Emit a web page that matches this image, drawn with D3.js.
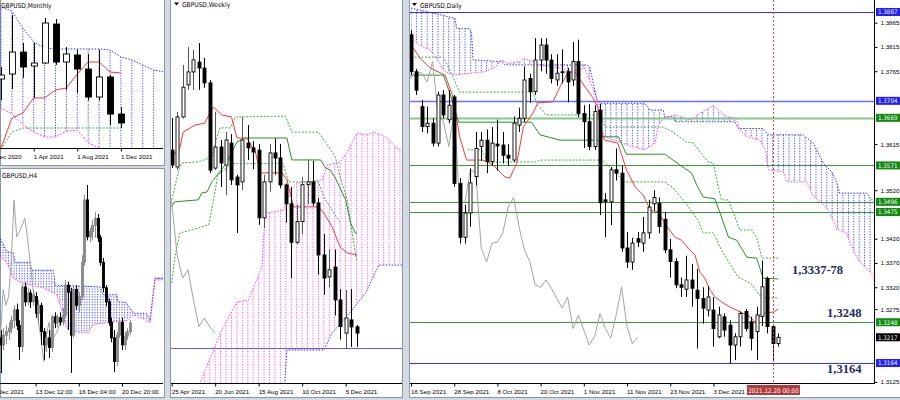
<!DOCTYPE html>
<html><head><meta charset="utf-8">
<script src="https://cdn.jsdelivr.net/npm/d3@7/dist/d3.min.js"></script>
<style>
html,body{margin:0;padding:0;background:#d3dae3;}
svg{display:block;font-family:"DejaVu Sans Condensed","Liberation Sans Narrow","DejaVu Sans",sans-serif;}
.ax text{font-size:6.2px;fill:#000;}
</style></head><body>
<svg id="chart" width="900" height="400"></svg>
<script>
// ================= DATA =================
// ---- Monthly (Jan 2021 .. Dec 2021), [open, high, low, close]
const monthlyOHLC = [
 [1.3641,1.3759,1.3435,1.3680],[1.3690,1.4270,1.3543,1.3906],[1.3906,1.3995,1.3651,1.3759],
 [1.3769,1.3995,1.3455,1.3798],[1.3798,1.4240,1.3790,1.4191],[1.4181,1.4230,1.3780,1.3808],
 [1.3808,1.3955,1.3533,1.3887],[1.3877,1.3926,1.3504,1.3739],[1.3739,1.3887,1.3430,1.3464],
 [1.3464,1.3926,1.3430,1.3661],[1.3661,1.3680,1.3189,1.3297],[1.3297,1.3366,1.3160,1.3209]];
const monthlyTenkan = [1.2964,1.3258,1.3307,1.3455,1.3455,1.3533,1.3553,1.3690,1.3808,1.3808,1.3710,1.3700];
const monthlyKijun  = [1.2950,1.3120,1.3160,1.3160,1.3160,1.3160,1.3160,1.3160,1.3160,1.3160,1.3160,1.3160];
const monthlySpanBlue = [[-1,1.4348],[0,1.4348],[1,1.4309],[2,1.4142],[3,1.4005],[4,1.3946],[5,1.3936],[9,1.3936],[10,1.3926],[11,1.3857],[12,1.3828],[13,1.3779],[14,1.3730],[15,1.3710]];
const monthlySpanPink = [[-1,1.3400],[0,1.3356],[1,1.3297],[2,1.3189],[3,1.3121],[4,1.3072],[5,1.3072],[6,1.3130],[7,1.3140],[8,1.3013],[9,1.2964],[10,1.2900],[15,1.2900]];
const monthlyTickIdx = [-1,3,7,11];
const monthlyTickLabels = ["1 Dec 2020","1 Apr 2021","1 Aug 2021","1 Dec 2021"];

// ---- H4 (9 Dec 08:00 .. 21 Dec 08:00)
const h4OHLC = [
 [1.3200,1.3209,1.3160,1.3192],[1.3192,1.3211,1.3186,1.3203],[1.3203,1.3214,1.3193,1.3207],[1.3207,1.3218,1.3198,1.3211],
 [1.3211,1.3225,1.3205,1.3220],[1.3220,1.3237,1.3211,1.3232],[1.3232,1.3239,1.3209,1.3214],[1.3214,1.3220,1.3175,1.3190],
 [1.3190,1.3261,1.3184,1.3258],[1.3258,1.3263,1.3236,1.3241],[1.3241,1.3257,1.3237,1.3251],[1.3251,1.3255,1.3234,1.3241],
 [1.3241,1.3255,1.3236,1.3249],[1.3247,1.3252,1.3223,1.3228],[1.3228,1.3243,1.3215,1.3237],[1.3237,1.3240,1.3192,1.3207],
 [1.3207,1.3211,1.3175,1.3192],[1.3192,1.3207,1.3184,1.3200],[1.3200,1.3209,1.3177,1.3189],[1.3189,1.3226,1.3184,1.3224],
 [1.3224,1.3229,1.3211,1.3217],[1.3217,1.3227,1.3212,1.3223],[1.3223,1.3229,1.3214,1.3218],[1.3218,1.3234,1.3214,1.3226],
 [1.3226,1.3266,1.3223,1.3260],[1.3260,1.3264,1.3209,1.3252],[1.3252,1.3257,1.3160,1.3203],[1.3203,1.3259,1.3200,1.3255],
 [1.3255,1.3260,1.3232,1.3237],[1.3237,1.3252,1.3229,1.3247],[1.3247,1.3294,1.3243,1.3286],[1.3286,1.3363,1.3282,1.3357],
 [1.3357,1.3374,1.3311,1.3315],[1.3315,1.3325,1.3309,1.3321],[1.3321,1.3334,1.3311,1.3328],[1.3328,1.3343,1.3314,1.3336],
 [1.3336,1.3341,1.3309,1.3314],[1.3314,1.3317,1.3282,1.3286],[1.3286,1.3291,1.3252,1.3257],[1.3257,1.3260,1.3236,1.3241],
 [1.3241,1.3245,1.3214,1.3218],[1.3218,1.3223,1.3195,1.3200],[1.3200,1.3209,1.3161,1.3173],[1.3173,1.3207,1.3168,1.3203],
 [1.3203,1.3223,1.3200,1.3218],[1.3218,1.3223,1.3186,1.3192],[1.3192,1.3207,1.3186,1.3202],[1.3202,1.3211,1.3198,1.3207],
 [1.3207,1.3220,1.3203,1.3217]];
const h4SpanBlue = [[-1,1.3319],[2.3,1.3298],[4.7,1.3297],[5.4,1.3286],[10.9,1.3286],[11.6,1.3277],[19.6,1.3277],[20.2,1.3260],[36.9,1.3258],[38.1,1.3249],[43,1.3249],[43.6,1.3241],[46.7,1.3240],[49.2,1.3228],[54.1,1.3228],[55.4,1.3220],[57.2,1.3268],[61,1.3268]];
const h4SpanPink = [[-1,1.3294],[2.3,1.3286],[4.7,1.3268],[8.4,1.3262],[15.9,1.3257],[20.8,1.3249],[23.3,1.3226],[24.5,1.3211],[28.8,1.3206],[32.5,1.3206],[34.4,1.3215],[40.6,1.3218],[47.3,1.3220],[49.2,1.3226],[54.1,1.3220],[55.4,1.3217],[57.2,1.3266],[61,1.3266]];
const h4TickIdx = [-3,13,29,45];
const h4TickLabels = ["8 Dec 2021","13 Dec 12:00","16 Dec 04:00","20 Dec 20:00"];

// ---- Weekly (25 Apr 2021 .. 19 Dec 2021)
const weeklyOHLC = [
 [1.3868,1.3982,1.3804,1.3815],[1.3808,1.4004,1.3797,1.3986],[1.3986,1.4171,1.3980,1.4092],[1.4100,1.4235,1.4082,1.4146],
 [1.4146,1.4224,1.4082,1.4189],[1.4181,1.4249,1.4082,1.4160],[1.4160,1.4196,1.4090,1.4107],[1.4107,1.4117,1.3787,1.3797],
 [1.3804,1.4004,1.3797,1.3879],[1.3879,1.3904,1.3737,1.3822],[1.3815,1.3932,1.3708,1.3904],[1.3893,1.3925,1.3744,1.3762],
 [1.3772,1.3780,1.3573,1.3744],[1.3755,1.3986,1.3726,1.3904],[1.3893,1.3957,1.3833,1.3876],[1.3876,1.3900,1.3800,1.3861],
 [1.3868,1.3890,1.3602,1.3627],[1.3627,1.3780,1.3590,1.3755],[1.3755,1.3890,1.3720,1.3858],[1.3858,1.3910,1.3780,1.3840],
 [1.3840,1.3890,1.3732,1.3744],[1.3744,1.3749,1.3610,1.3677],[1.3677,1.3737,1.3412,1.3540],[1.3540,1.3674,1.3533,1.3614],
 [1.3614,1.3773,1.3570,1.3745],[1.3745,1.3834,1.3675,1.3755],[1.3755,1.3830,1.3670,1.3680],[1.3680,1.3697,1.3425,1.3495],
 [1.3495,1.3570,1.3353,1.3413],[1.3417,1.3515,1.3380,1.3442],[1.3452,1.3515,1.3280,1.3335],[1.3335,1.3373,1.3194,1.3240],
 [1.3217,1.3370,1.3160,1.3271],[1.3264,1.3374,1.3168,1.3239],[1.3239,1.3246,1.3168,1.3217]];
const weeklyTenkan = [[0,1.3843],[1.5,1.3876],[2.1,1.3932],[4.3,1.3957],[6.1,1.3964],[7.1,1.4004],[7.7,1.4021],[9.2,1.3993],[11,1.3986],[12,1.3911],[13.8,1.3911],[15.4,1.3861],[16.3,1.3787],[20.3,1.3787],[21.2,1.3762],[22.1,1.3691],[22.4,1.3666],[27,1.3666],[28,1.3644],[29.5,1.3595],[31,1.3523],[32.3,1.3502],[34.1,1.3495]];
const weeklyKijun = [[0,1.3666],[0.5,1.3684],[4.9,1.3691],[5.5,1.3715],[6.5,1.3719],[7.4,1.3755],[10.1,1.3822],[12,1.3897],[13.5,1.3911],[21.2,1.3911],[22.1,1.3833],[27.4,1.3833],[28.3,1.3804],[29.2,1.3797],[30.1,1.3769],[32,1.3691],[32.9,1.3609],[33.8,1.3573],[34.1,1.3573]];
const weeklyDashUp = [[0,1.3691],[1.2,1.3787],[1.8,1.3822],[4.9,1.3826],[7.4,1.3843],[8.3,1.3911],[8.9,1.3947],[10.8,1.3947],[11.7,1.3986],[20.9,1.3989],[22.1,1.3932],[27,1.3932],[28.9,1.3879],[30.1,1.3843],[31,1.3772],[32.3,1.3691],[33.2,1.3573],[34,1.3477]];
const weeklyDashLow = [[0,1.3395],[0.6,1.3488],[1.5,1.3573],[4.9,1.3591],[6.8,1.3602],[7.7,1.3691],[8.5,1.3780],[11,1.3820],[20.5,1.3820],[21.5,1.3755],[27,1.3755],[28,1.3700],[30,1.3640],[31,1.3610]];
const weeklySpanPink = [[4.5,1.2950],[5.2,1.3040],[9.2,1.3228],[12,1.3328],[14.1,1.3335],[15.4,1.3395],[16.6,1.3452],[17.2,1.3644],[20.6,1.3655],[22.1,1.3737],[23.1,1.3750],[27.7,1.3762],[28.6,1.3815],[31,1.3826],[32.3,1.3861],[34.1,1.3929],[35.7,1.3922],[37.2,1.3932],[39.4,1.3915],[41.2,1.3879],[43,1.3860]];
const weeklySpanBlue = [[4.5,1.2950],[20.5,1.2950],[21.2,1.3157],[28,1.3157],[29.5,1.3217],[33.2,1.3299],[35.7,1.3360],[38.1,1.3459],[43,1.3459]];
const weeklyLevel = 1.3164;
const weeklyTickIdx = [0,8,16,24,32];
const weeklyTickLabels = ["25 Apr 2021","20 Jun 2021","15 Aug 2021","10 Oct 2021","5 Dec 2021"];

// ---- Daily (16 Sep 2021 .. 21 Dec 2021)
const dailyOHLC = [
 [1.3840,1.3850,1.3757,1.3764],[1.3764,1.3770,1.3716,1.3726],[1.3692,1.3706,1.3640,1.3651],[1.3651,1.3692,1.3637,1.3658],
 [1.3658,1.3668,1.3610,1.3617],[1.3617,1.3723,1.3610,1.3716],[1.3716,1.3726,1.3668,1.3675],[1.3665,1.3726,1.3658,1.3695],
 [1.3712,1.3716,1.3527,1.3534],[1.3534,1.3545,1.3410,1.3423],[1.3423,1.3490,1.3410,1.3473],[1.3473,1.3565,1.3445,1.3535],
 [1.3548,1.3640,1.3530,1.3606],[1.3610,1.3640,1.3580,1.3623],[1.3623,1.3645,1.3555,1.3579],[1.3579,1.3650,1.3570,1.3617],
 [1.3615,1.3665,1.3560,1.3611],[1.3613,1.3640,1.3575,1.3592],[1.3592,1.3615,1.3570,1.3586],[1.3582,1.3672,1.3578,1.3658],
 [1.3654,1.3690,1.3640,1.3668],[1.3668,1.3775,1.3660,1.3747],[1.3750,1.3760,1.3700,1.3723],[1.3723,1.3833,1.3716,1.3788],
 [1.3788,1.3833,1.3765,1.3819],[1.3819,1.3833,1.3760,1.3788],[1.3788,1.3800,1.3740,1.3750],[1.3747,1.3800,1.3735,1.3761],
 [1.3764,1.3810,1.3740,1.3762],[1.3764,1.3772,1.3701,1.3743],[1.3747,1.3825,1.3735,1.3785],[1.3785,1.3830,1.3670,1.3678],
 [1.3678,1.3695,1.3607,1.3661],[1.3661,1.3697,1.3602,1.3610],[1.3610,1.3695,1.3603,1.3682],[1.3685,1.3698,1.3469,1.3494],
 [1.3500,1.3514,1.3423,1.3496],[1.3496,1.3568,1.3448,1.3562],[1.3562,1.3606,1.3540,1.3555],[1.3555,1.3571,1.3393,1.3401],
 [1.3401,1.3434,1.3360,1.3372],[1.3372,1.3422,1.3356,1.3411],[1.3420,1.3434,1.3403,1.3413],[1.3411,1.3465,1.3393,1.3432],
 [1.3432,1.3500,1.3420,1.3485],[1.3492,1.3520,1.3478,1.3505],[1.3493,1.3505,1.3431,1.3445],[1.3460,1.3475,1.3390,1.3397],
 [1.3397,1.3420,1.3340,1.3373],[1.3373,1.3380,1.3318,1.3325],[1.3325,1.3340,1.3300,1.3320],[1.3316,1.3385,1.3300,1.3335],
 [1.3335,1.3368,1.3280,1.3318],[1.3314,1.3358,1.3194,1.3297],[1.3297,1.3320,1.3245,1.3277],[1.3273,1.3322,1.3260,1.3300],
 [1.3273,1.3300,1.3198,1.3235],[1.3218,1.3280,1.3215,1.3263],[1.3259,1.3266,1.3218,1.3232],[1.3242,1.3252,1.3163,1.3201],
 [1.3201,1.3225,1.3170,1.3218],[1.3218,1.3270,1.3198,1.3266],[1.3270,1.3275,1.3229,1.3235],[1.3249,1.3259,1.3190,1.3215],
 [1.3229,1.3280,1.3170,1.3263],[1.3260,1.3375,1.3240,1.3321],[1.3338,1.3342,1.3225,1.3239],[1.3239,1.3242,1.3170,1.3204],
 [1.3204,1.3225,1.3198,1.3217]];
const dailyTenkan = [[0,1.3819],[1.7,1.3792],[3.5,1.3772],[6.3,1.3757],[7.8,1.3712],[9,1.3630],[10.3,1.3582],[13.3,1.3582],[15.2,1.3572],[17.4,1.3547],[18.3,1.3545],[19.6,1.3576],[20.8,1.3650],[22.6,1.3679],[23.5,1.3700],[26.3,1.3702],[27.6,1.3733],[29.1,1.3763],[30.4,1.3763],[31.6,1.3743],[33.7,1.3710],[34.6,1.3691],[35.3,1.3638],[35.9,1.3623],[38.3,1.3617],[39.9,1.3562],[41.5,1.3527],[43,1.3510],[44.3,1.3479],[45.8,1.3475],[46.7,1.3458],[47.6,1.3442],[48.9,1.3423],[50.1,1.3417],[51.3,1.3401],[52.6,1.3386],[53.5,1.3351],[54.4,1.3339],[55.4,1.3314],[56.3,1.3300],[57.5,1.3290],[59.1,1.3279],[60.3,1.3273],[62.8,1.3259],[64,1.3246],[64.6,1.3263],[65.6,1.3267],[67.1,1.3269],[68,1.3275]];
const dailyKijun = [[0,1.3757],[6,1.3757],[7.2,1.3720],[8.8,1.3660],[22.3,1.3660],[23.9,1.3634],[27.6,1.3623],[34.7,1.3623],[35.3,1.3630],[38.4,1.3630],[39.9,1.3594],[47,1.3594],[49.8,1.3572],[52,1.3555],[52.9,1.3531],[54.1,1.3506],[56.3,1.3502],[58.8,1.3423],[60.3,1.3417],[62.2,1.3382],[64,1.3380],[65.2,1.3339],[68,1.3337]];
const dailyDashUp = [[0,1.3794],[6,1.3794],[7.5,1.3760],[9,1.3722],[22.5,1.3722],[23.5,1.3695],[25,1.3675],[35,1.3675],[36,1.3650],[46.7,1.3650],[48.5,1.3640],[51,1.3619],[52.3,1.3617],[55,1.3578],[56,1.3576],[56.9,1.3527],[57.5,1.3500],[58.8,1.3500],[60.9,1.3438],[63.1,1.3438],[64,1.3423],[65,1.3380],[68,1.3380]];
const dailyDashLow = [[10.5,1.3603],[13,1.3603],[14.3,1.3578],[23,1.3578],[24,1.3582],[35.5,1.3582],[39.5,1.3537],[47,1.3537],[48.5,1.3525],[50.4,1.3500],[53.2,1.3458],[54.1,1.3432],[56,1.3432],[57.5,1.3397],[59.4,1.3362],[60.6,1.3341],[62.8,1.3329],[65,1.3298],[68,1.3298]];
const dailySpanBlue = [[0,1.3895],[4.4,1.3884],[8.1,1.3874],[8.5,1.3853],[10.9,1.3853],[11.2,1.3843],[11.5,1.3788],[16.8,1.3785],[17.4,1.3778],[32.5,1.3778],[33.1,1.3774],[34.4,1.3706],[35,1.3699],[43.3,1.3699],[44.3,1.3685],[46.7,1.3685],[47,1.3671],[48.6,1.3671],[48.9,1.3661],[60,1.3661],[60.6,1.3647],[65.2,1.3647],[66.2,1.3634],[72.6,1.3634],[74.5,1.3617],[76.4,1.3575],[77.9,1.3558],[78.8,1.3537],[79.4,1.3514],[84.4,1.3514],[85.3,1.3500],[87,1.3500]];
const dailySpanPink = [[0,1.3833],[1.4,1.3819],[3.5,1.3809],[5.1,1.3785],[6,1.3768],[6.9,1.3761],[8.1,1.3757],[11.2,1.3761],[13.7,1.3764],[15.6,1.3774],[16.8,1.3788],[18,1.3781],[20.2,1.3785],[20.8,1.3792],[22,1.3788],[23.6,1.3778],[27.9,1.3771],[29.1,1.3764],[32.2,1.3771],[33.5,1.3733],[34.4,1.3712],[35.3,1.3647],[35.9,1.3630],[38.4,1.3620],[40.9,1.3610],[43.3,1.3603],[44.3,1.3610],[45.2,1.3617],[45.8,1.3654],[46.7,1.3668],[48.9,1.3675],[51.7,1.3665],[53.5,1.3678],[56,1.3695],[56.9,1.3685],[58.5,1.3671],[60.3,1.3668],[60.9,1.3644],[62.2,1.3630],[64.6,1.3623],[65.6,1.3603],[66.2,1.3562],[68.9,1.3558],[69.6,1.3537],[73.3,1.3537],[74.5,1.3507],[76.4,1.3490],[77.6,1.3473],[78.8,1.3440],[80.7,1.3432],[81.3,1.3411],[82.8,1.3376],[85,1.3352],[87,1.3330]];
const dailyBlueLevels = [1.3887,1.3704,1.3164];
const dailyGreenLevels = [1.3669,1.3571,1.3496,1.3475,1.3248];
const dailyPriceTicks = [1.3865,1.3815,1.3765,1.3715,1.3665,1.3615,1.3570,1.3520,1.3470,1.3420,1.3370,1.3320,1.3275,1.3225,1.3175,1.3125];
const dailyTickIdx = [0,8,16,24,32,40,48,56];
const dailyTickLabels = ["16 Sep 2021","28 Sep 2021","8 Oct 2021","20 Oct 2021","1 Nov 2021","11 Nov 2021","23 Nov 2021","3 Dec 2021"];
const dailyCursorIdx = 67;
const dailyCursorLabel = "2021.12.20 00:00";
const dailyNotes = ["1,3337-78","1,3248","1,3164"];
const dailyNotePrices = [1.3357,1.3248,1.3164];

// ================= DRAWING =================
const svg = d3.select('#chart');
const defs = svg.append('defs');
const C = {red:'#f23a3a', green:'#279127', gdash:'#3fa83f', blue:'#2f2fff', pink:'#ff3cff', gray:'#a3a3a3', frame:'#8c97a4'};

function makeHatch(id, color, step, x0){
  const p = defs.append('pattern').attr('id',id).attr('patternUnits','userSpaceOnUse')
    .attr('x',x0-0.5).attr('y',0).attr('width',step).attr('height',2.6);
  p.append('rect').attr('x',0).attr('y',0).attr('width',1).attr('height',1.1).attr('fill',color);
}
function makePanel(id, box, plot){
  svg.append('rect').attr('x',box.x+0.5).attr('y',box.y+0.5).attr('width',box.w-1).attr('height',box.h-1)
    .attr('fill','#fff').attr('stroke',C.frame);
  defs.append('clipPath').attr('id','clip-'+id).append('rect')
    .attr('x',plot.x).attr('y',plot.y).attr('width',plot.w).attr('height',plot.h);
  const g = svg.append('g');
  const inner = g.append('g').attr('clip-path','url(#clip-'+id+')');
  return {g, inner};
}
const lineGen = (xs, ys) => d3.line().x(d=>xs(d[0])).y(d=>ys(d[1]));
function drawPath(g, pts, xs, ys, color, dash, w){
  g.append('path').attr('d', lineGen(xs,ys)(pts)).attr('fill','none')
    .attr('stroke',color).attr('stroke-width',w||1).attr('stroke-dasharray',dash||null);
}
function drawCloud(g, a, b, xs, ys, pat){
  const pts = a.concat(b.slice().reverse());
  g.append('path').attr('d', lineGen(xs,ys)(pts)+'Z').attr('fill','url(#'+pat+')').attr('stroke','none');
}
function drawCandles(g, data, xs, ys, bw, bull, bullStroke, bear, wick){
  const sel = g.append('g').selectAll('g').data(data).join('g');
  const cx = (d,i)=>Math.round(xs(i))+0.5;
  sel.append('line').attr('x1',cx).attr('x2',cx).attr('y1',d=>ys(d[1])).attr('y2',d=>ys(d[2]))
    .attr('stroke',d=>d[3]>=d[0]?(wick||'#000'):'#000').attr('stroke-width',1);
  sel.append('rect').attr('x',(d,i)=>cx(d,i)-bw/2)
    .attr('y',d=>ys(Math.max(d[0],d[3])))
    .attr('width',bw)
    .attr('height',d=>Math.max(0.8, ys(Math.min(d[0],d[3]))-ys(Math.max(d[0],d[3]))))
    .attr('fill',d=>d[3]>=d[0]?bull:bear)
    .attr('stroke',d=>d[3]>=d[0]?bullStroke:bear).attr('stroke-width',0.9);
}
function bottomAxis(g, xs, ticks, labels, y, x0, x1){
  g.append('line').attr('x1',x0).attr('x2',x1).attr('y1',y+0.5).attr('y2',y+0.5).attr('stroke','#000');
  const ax = d3.axisBottom(xs).tickValues(ticks).tickFormat((d,i)=>labels[i]).tickSize(3).tickSizeOuter(0);
  const ag = g.append('g').attr('class','ax').attr('transform',`translate(0,${y+0.5})`).call(ax);
  ag.select('.domain').remove();
  ag.selectAll('.tick line').attr('stroke','#000');
  ag.selectAll('text').attr('text-anchor','start').attr('x',-0.5);
}
function title(g, x, y, txt, tri){
  if(tri) g.append('path').attr('d',`M${x},${y-4.5}h5l-2.5,3z`).attr('fill','#000');
  g.append('text').attr('x',tri?x+8:x).attr('y',y).attr('font-size',6.6).attr('fill','#000').text(txt);
}

// ---- Monthly panel
{
  const P = makePanel('m', {x:0,y:-1,w:165,h:167}, {x:0,y:0,w:163,h:148});
  const xs = d3.scaleLinear().domain([0,11]).range([1,120.9]);
  const ys = d3.scaleLinear().domain([1.3160,1.4250]).range([128,17]);
  makeHatch('hM', C.blue, 10.9, 1);
  drawCloud(P.inner, monthlySpanBlue, monthlySpanPink, xs, ys, 'hM');
  drawPath(P.inner, monthlySpanBlue, xs, ys, C.blue, '1.5,1.5');
  drawPath(P.inner, monthlySpanPink, xs, ys, C.pink, '2,1.5');
  drawPath(P.inner, monthlyKijun.map((v,i)=>[i,v]), xs, ys, C.gdash, '2,1.5');
  drawPath(P.inner, monthlyTenkan.map((v,i)=>[i,v]), xs, ys, C.red);
  drawCandles(P.inner, monthlyOHLC, xs, ys, 6, '#fff', '#000', '#000');
  bottomAxis(P.g, xs, monthlyTickIdx, monthlyTickLabels, 148, 0, 163);
  title(P.g, 1, 7.5, 'GBPUSD,Monthly', false);
}
// ---- H4 panel
{
  const P = makePanel('h', {x:0,y:168,w:165,h:230}, {x:0,y:169,w:163,h:214});
  const xs = d3.scaleLinear().domain([0,48]).range([0.5,130.1]);
  const ys = d3.scaleLinear().domain([1.3160,1.3374]).range([373,185]);
  makeHatch('hH', C.blue, 2.7, 0.5);
  drawCloud(P.inner, h4SpanBlue, h4SpanPink, xs, ys, 'hH');
  drawPath(P.inner, h4SpanBlue, xs, ys, C.blue, '1.5,1.5');
  drawPath(P.inner, h4SpanPink, xs, ys, C.pink, '1.5,1.5');
  const chikou = h4OHLC.map((d,i)=>[i-26,d[3]]).filter(d=>d[0]>=-2);
  drawPath(P.inner, chikou, xs, ys, C.gray);
  drawCandles(P.inner, h4OHLC, xs, ys, 2, '#8a8a8a', '#8a8a8a', '#000', '#8a8a8a');
  bottomAxis(P.g, xs, h4TickIdx, h4TickLabels, 383, 0, 163);
  title(P.g, 2, 178, 'GBPUSD,H4', false);
}
// ---- Weekly panel
{
  const P = makePanel('w', {x:170,y:-1,w:233,h:399}, {x:171,y:0,w:231,h:383});
  const xs = d3.scaleLinear().domain([0,34]).range([171.7,356.5]);
  const ys = d3.scaleLinear().domain([1.3164,1.4249]).range([348,43]);
  makeHatch('hW', C.pink, 5.435, 171.7);
  drawCloud(P.inner, weeklySpanPink, weeklySpanBlue, xs, ys, 'hW');
  drawPath(P.inner, weeklySpanPink, xs, ys, C.pink, '1.5,1.5');
  drawPath(P.inner, weeklySpanBlue, xs, ys, C.blue, '1.5,1.5');
  P.inner.append('line').attr('x1',171).attr('x2',402).attr('y1',Math.round(ys(weeklyLevel))+0.5).attr('y2',Math.round(ys(weeklyLevel))+0.5).attr('stroke','#5a5aff');
  drawPath(P.inner, weeklyDashUp, xs, ys, C.gdash, '2,1.5');
  drawPath(P.inner, weeklyDashLow, xs, ys, C.gdash, '2,1.5');
  drawPath(P.inner, weeklyKijun, xs, ys, C.green);
  drawPath(P.inner, weeklyTenkan, xs, ys, C.red);
  const chikou = weeklyOHLC.map((d,i)=>[i-26,d[3]]).filter(d=>d[0]>=-1);
  drawPath(P.inner, chikou, xs, ys, C.gray);
  drawCandles(P.inner, weeklyOHLC, xs, ys, 3, '#fff', '#000', '#000', '#555');
  bottomAxis(P.g, xs, weeklyTickIdx, weeklyTickLabels, 383, 171, 402);
  title(P.g, 174, 7, 'GBPUSD,Weekly', true);
}
// ---- Daily panel
{
  const P = makePanel('d', {x:409,y:-1,w:492,h:399}, {x:410,y:0,w:464,h:383});
  const xs = d3.scaleLinear().domain([0,68]).range([411,778.2]);
  const ys = d3.scaleLinear().domain([1.3164,1.3887]).range([363,12]);
  makeHatch('hD', C.blue, 5.4, 411);
  drawCloud(P.inner, dailySpanBlue, dailySpanPink, xs, ys, 'hD');
  drawPath(P.inner, dailySpanBlue, xs, ys, C.blue, '1.5,1.5');
  drawPath(P.inner, dailySpanPink, xs, ys, C.pink, '1.5,1.5');
  dailyBlueLevels.forEach((v,i)=>{
    const y = Math.round(ys(v))+0.5;
    P.inner.append('line').attr('x1',410).attr('x2',874).attr('y1',y).attr('y2',y)
      .attr('stroke', i===1?'#6d6dff':C.blue).attr('stroke-width', i===1?1.6:1);
  });
  dailyGreenLevels.forEach((v,i)=>{
    const y = Math.round(ys(v))+0.5;
    P.inner.append('line').attr('x1',410).attr('x2',874).attr('y1',y).attr('y2',y)
      .attr('stroke', i===0?'#86c886':'#3c963c').attr('stroke-width', i===0?2:1);
  });
  drawPath(P.inner, dailyDashUp, xs, ys, C.gdash, '2,1.5');
  drawPath(P.inner, dailyDashLow, xs, ys, C.gdash, '2,1.5');
  drawPath(P.inner, dailyKijun, xs, ys, C.green);
  drawPath(P.inner, dailyTenkan, xs, ys, C.red);
  const chikou = dailyOHLC.map((d,i)=>[i-26,d[3]]).filter(d=>d[0]>=-1);
  drawPath(P.inner, chikou, xs, ys, C.gray);
  drawCandles(P.inner, dailyOHLC, xs, ys, 3, '#fff', '#000', '#000');
  const cx = Math.round(xs(dailyCursorIdx))+0.5;
  P.inner.append('line').attr('x1',cx).attr('x2',cx).attr('y1',0).attr('y2',383)
    .attr('stroke','#b5474b').attr('stroke-dasharray','2,2');
  bottomAxis(P.g, xs, dailyTickIdx, dailyTickLabels, 383, 410, 874);
  P.g.append('rect').attr('x',cx-26.5).attr('y',385).attr('width',53).attr('height',10).attr('fill','#b03a3a');
  P.g.append('text').attr('x',cx).attr('y',392.5).attr('text-anchor','middle').attr('font-size',6.3).attr('fill','#fff').text(dailyCursorLabel);
  // right price axis: tick labels hidden where a level tag sits on top of them (as in the terminal)
  const lastClose = dailyOHLC[dailyOHLC.length-1][3];
  const tagged = dailyBlueLevels.concat(dailyGreenLevels, [lastClose]);
  const visibleTicks = dailyPriceTicks.filter(v => tagged.every(t => Math.abs(ys(t)-ys(v)) > 7));
  P.g.append('line').attr('x1',874.5).attr('x2',874.5).attr('y1',0).attr('y2',384).attr('stroke','#000');
  const ra = d3.axisRight(ys).tickValues(visibleTicks).tickFormat(d3.format('.4f')).tickSize(3).tickPadding(3);
  const rg = P.g.append('g').attr('class','ax').attr('transform','translate(874.5,0)').call(ra);
  rg.select('.domain').remove();
  function tag(v, color){
    const y = ys(v);
    P.g.append('rect').attr('x',876).attr('y',y-4).attr('width',24).attr('height',8).attr('fill',color);
    P.g.append('text').attr('x',878).attr('y',y+2.3).attr('font-size',6.2).attr('fill','#fff').text(d3.format('.4f')(v));
  }
  dailyBlueLevels.forEach(v=>tag(v,'#1f1fff'));
  dailyGreenLevels.forEach(v=>tag(v,'#118a11'));
  tag(lastClose, '#000');
  const noteX = [792, 827, 827];
  const noteDy = [4.5, -5.5, 10];
  dailyNotes.forEach((t,i)=>{
    P.g.append('text').attr('x',noteX[i]).attr('y',ys(dailyNotePrices[i])+noteDy[i])
      .attr('font-family','"Liberation Serif","DejaVu Serif",serif').attr('font-weight','bold')
      .attr('font-size',12.5).attr('fill','#1d2a5c').text(t);
  });
  title(P.g, 412, 7.5, 'GBPUSD,Daily', true);
}
</script></body></html>
